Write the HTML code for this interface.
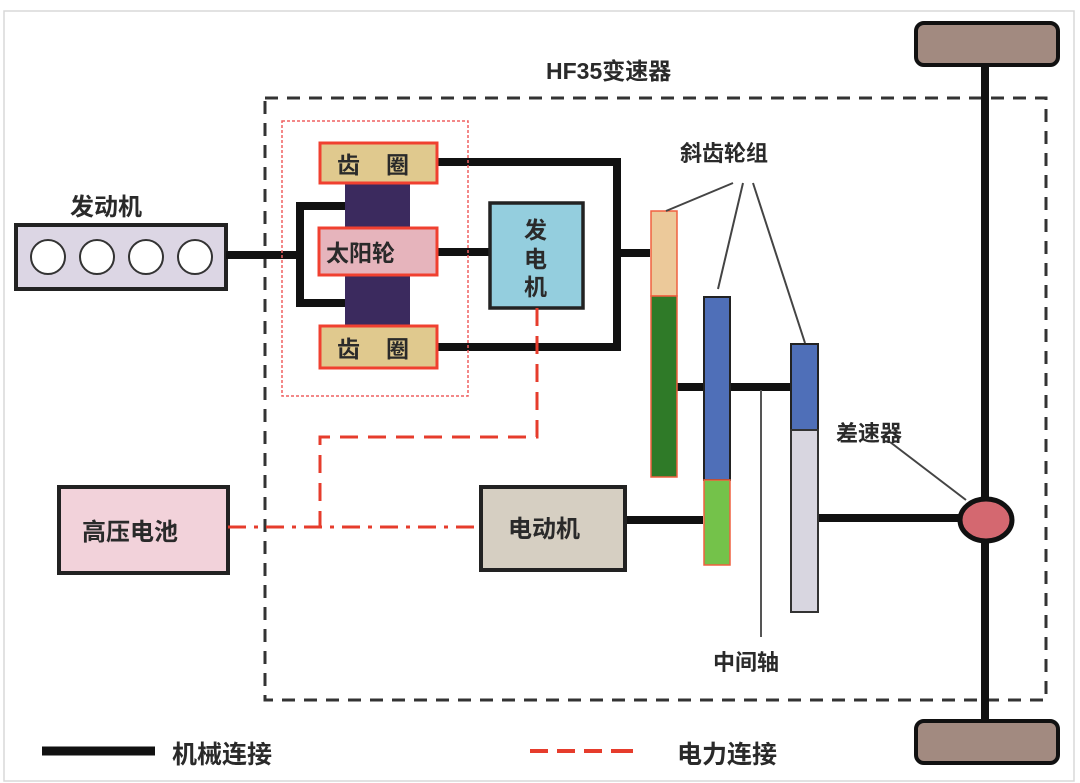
<!DOCTYPE html>
<html><head><meta charset="utf-8"><style>
html,body{margin:0;padding:0;background:#fff;}
svg{display:block;}
text{font-family:"Liberation Sans","Noto Sans CJK SC","WenQuanYi Zen Hei",sans-serif;font-weight:bold;fill:#2a2a2a;}
</style></head><body>
<svg width="1080" height="783" viewBox="0 0 1080 783" xmlns="http://www.w3.org/2000/svg">
<rect x="0" y="0" width="1080" height="783" fill="#fff"/>
<rect x="4" y="11" width="1070" height="770" fill="none" stroke="#d8d8d8" stroke-width="1.5"/>
<path d="M265,98 H1046 V700 H265 Z" fill="none" stroke="#333" stroke-width="3" stroke-dasharray="13,9"/>
<text x="546" y="79" font-size="23">HF35变速器</text>
<line x1="985" y1="44" x2="985" y2="742" stroke="#111" stroke-width="8"/>
<rect x="916" y="23" width="142" height="42" rx="8" fill="#a28a80" stroke="#111" stroke-width="4"/>
<rect x="916" y="721" width="142" height="42" rx="8" fill="#a28a80" stroke="#111" stroke-width="4"/>
<text x="70" y="215" font-size="24">发动机</text>
<rect x="16" y="225" width="210" height="64" fill="#dcd6e4" stroke="#222" stroke-width="4"/>
<circle cx="48" cy="257" r="17" fill="#fff" stroke="#333" stroke-width="2"/>
<circle cx="97" cy="257" r="17" fill="#fff" stroke="#333" stroke-width="2"/>
<circle cx="146" cy="257" r="17" fill="#fff" stroke="#333" stroke-width="2"/>
<circle cx="195" cy="257" r="17" fill="#fff" stroke="#333" stroke-width="2"/>
<g stroke="#111" stroke-width="8" fill="none">
<line x1="226" y1="255" x2="300" y2="255"/>
<path d="M345,206 H300 V303 H345"/>
<line x1="437" y1="252" x2="490" y2="252"/>
<path d="M437,162 H617 V347 H437"/>
<line x1="617" y1="253" x2="650" y2="253"/>
<line x1="677" y1="387" x2="790" y2="387"/>
<line x1="625" y1="520" x2="703" y2="520"/>
<line x1="818" y1="518" x2="962" y2="518"/>
</g>
<rect x="282" y="121" width="186" height="275" fill="none" stroke="#ef6060" stroke-width="1.5" stroke-dasharray="3,2"/>
<rect x="345" y="183" width="65" height="45" fill="#3b2a5e"/>
<rect x="345" y="275" width="65" height="50" fill="#3b2a5e"/>
<rect x="320" y="143" width="117" height="40" fill="#e0c98e" stroke="#f04030" stroke-width="3"/>
<text x="337" y="173" font-size="23">齿</text><text x="386" y="173" font-size="23">圈</text>
<rect x="319" y="228" width="118" height="47" fill="#e6b4bc" stroke="#f04030" stroke-width="3"/>
<text x="326" y="261" font-size="23">太阳轮</text>
<rect x="320" y="326" width="117" height="42" fill="#e0c98e" stroke="#f04030" stroke-width="3"/>
<text x="337" y="357" font-size="23">齿</text><text x="386" y="357" font-size="23">圈</text>
<rect x="490" y="203" width="93" height="105" fill="#94cede" stroke="#222" stroke-width="3.5"/>
<text x="524" y="238" font-size="23">发</text>
<text x="524" y="267" font-size="23">电</text>
<text x="524" y="295" font-size="23">机</text>
<rect x="651" y="211" width="26" height="85" fill="#ecc99a" stroke="#f06040" stroke-width="1.5"/>
<rect x="651" y="296" width="26" height="181" fill="#2f7a28" stroke="#f06040" stroke-width="1.5"/>
<rect x="704" y="297" width="26" height="183" fill="#4f6fb8" stroke="#222" stroke-width="2"/>
<rect x="704" y="480" width="26" height="85" fill="#74c24a" stroke="#f06040" stroke-width="1.5"/>
<rect x="791" y="344" width="27" height="86" fill="#4f6fb8" stroke="#222" stroke-width="2"/>
<rect x="791" y="430" width="27" height="182" fill="#d8d6e0" stroke="#333" stroke-width="2"/>
<line x1="761" y1="390" x2="761" y2="637" stroke="#555" stroke-width="2"/>
<text x="713" y="670" font-size="22">中间轴</text>
<text x="680" y="161" font-size="22">斜齿轮组</text>
<g stroke="#444" stroke-width="2">
<line x1="733" y1="183" x2="666" y2="211"/>
<line x1="743" y1="183" x2="718" y2="289"/>
<line x1="753" y1="183" x2="805" y2="343"/>
<line x1="890" y1="442" x2="966" y2="500"/>
</g>
<text x="836" y="441" font-size="22">差速器</text>
<ellipse cx="986" cy="520" rx="26" ry="21" fill="#d46870" stroke="#111" stroke-width="5"/>
<rect x="481" y="487" width="144" height="83" fill="#d6cfc2" stroke="#222" stroke-width="4"/>
<text x="508" y="537" font-size="24">电动机</text>
<rect x="59" y="487" width="169" height="86" fill="#f2d2da" stroke="#222" stroke-width="4"/>
<text x="82" y="540" font-size="24">高压电池</text>
<g stroke="#e63c2c" stroke-width="3" fill="none">
<path d="M228,527 H480" stroke-dasharray="18,8,4,8"/>
<path d="M537,308 V437 H320 V527" stroke-dasharray="18,10"/>
</g>
<line x1="42" y1="751" x2="155" y2="751" stroke="#111" stroke-width="9"/>
<text x="172" y="763" font-size="25">机械连接</text>
<path d="M530,751 H640" stroke="#e63c2c" stroke-width="4" stroke-dasharray="18,9,18,9,18,9,4,0" fill="none"/>
<text x="677" y="763" font-size="25">电力连接</text>
</svg>
</body></html>
